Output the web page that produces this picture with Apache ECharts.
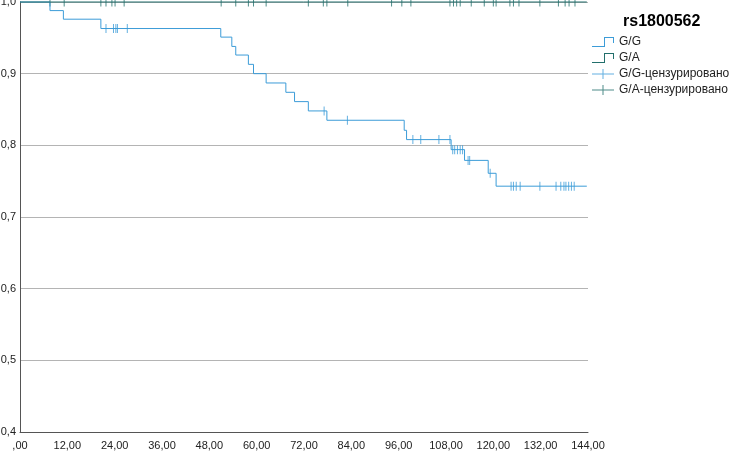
<!DOCTYPE html>
<html>
<head>
<meta charset="utf-8">
<script src="https://cdn.jsdelivr.net/npm/echarts@6/dist/echarts.min.js"></script>
<style>
  html, body { margin: 0; padding: 0; background: #fff; }
  #chart { width: 735px; height: 451px; }
</style>
</head>
<body>
<div id="chart"></div>
<script>
// G/G: время события и доля выживших после него
var ggTimes = [0, 7.6, 11.0, 20.5, 50.9, 53.7, 54.7, 57.9, 59.2, 62.4, 67.4, 69.6, 73.1, 77.8, 97.4, 98.0, 109.3, 112.7, 118.7, 120.7, 143.7];
var ggSurv  = [1.0, 0.988, 0.976, 0.963, 0.951, 0.938, 0.926, 0.913, 0.900, 0.887, 0.874, 0.861, 0.848, 0.835, 0.821, 0.808, 0.794, 0.779, 0.761, 0.743, 0.743];

// G/G цензурированные наблюдения
var ggCensTimes = [21.8, 23.7, 24.3, 24.7, 27.2, 77.1, 83.0, 99.6, 101.6, 106.2, 109.0, 109.7, 110.2, 110.9, 111.6, 112.2, 113.6, 114.0, 119.2,
                   124.5, 125.1, 125.8, 126.8, 131.8, 135.9, 137.1, 137.9, 138.4, 139.1, 139.8, 140.5];
var ggCensSurv  = [0.963, 0.963, 0.963, 0.963, 0.963, 0.848, 0.835, 0.808, 0.808, 0.808, 0.808, 0.794, 0.794, 0.794, 0.794, 0.794, 0.779, 0.779, 0.761,
                   0.743, 0.743, 0.743, 0.743, 0.743, 0.743, 0.743, 0.743, 0.743, 0.743, 0.743, 0.743];

// G/A: событий нет, только цензурирование
var gaTimes = [0, 143.7];
var gaSurv  = [1.0, 1.0];
var gaCensTimes = [7.6, 11.2, 20.5, 21.8, 23.3, 24.1, 26.4, 51.0, 54.7, 57.9, 59.2, 62.4, 73.1, 76.9, 77.8, 83.1, 94.2, 96.8, 99.1,
                   109.0, 109.9, 110.7, 111.6, 114.4, 117.7, 120.0, 120.7, 124.2, 125.1, 126.5, 131.8, 136.5, 138.2, 139.2, 140.7];

var C_GG = '#3c9cd8';
var C_GA = '#226f6c';

function pairs(xs, ys) {
    return xs.map(function (x, i) { return [x, ys[i]]; });
}

var tickPath = 'path://M0,0 H1 V10 H0 Z';
var stepIcon = 'path://M0,9 H12 V0 H22 V6 H21 V1 H13 V10 H0 Z';
var crossIcon = 'path://M0,4.5 H22 V5.5 H0 Z M10.5,0 H11.5 V10 H10.5 Z';

var chart = echarts.init(document.getElementById('chart'));
var option = {
    animation: false,
    textStyle: { fontFamily: 'Liberation Sans, Arial, sans-serif' },
    title: {
        text: 'rs1800562',
        left: 618,
        top: 9,
        textStyle: { fontSize: 16, fontWeight: 'bold', color: '#000', fontFamily: 'Liberation Sans, Arial, sans-serif' }
    },
    legend: {
        orient: 'vertical',
        left: 592,
        top: 36,
        padding: 0,
        itemWidth: 22,
        itemHeight: 10,
        itemGap: 4,
        textStyle: { fontSize: 12, color: '#222' },
        data: [
            { name: 'G/G', icon: stepIcon },
            { name: 'G/A', icon: stepIcon },
            { name: 'G/G-цензурировано', icon: crossIcon },
            { name: 'G/A-цензурировано', icon: crossIcon }
        ]
    },
    grid: { left: 20, top: 2, right: 147, bottom: 19, outerBoundsMode: 'none', containLabel: false },
    xAxis: {
        type: 'value',
        min: 0,
        max: 144,
        interval: 12,
        axisLine: { show: true, lineStyle: { color: '#555' } },
        axisTick: { show: false },
        splitLine: { show: false },
        axisLabel: {
            fontSize: 11,
            color: '#222',
            margin: 8,
            formatter: function (v) { return v === 0 ? ',00' : v.toFixed(2).replace('.', ','); }
        }
    },
    yAxis: {
        type: 'value',
        min: 0.4,
        max: 1.0,
        interval: 0.1,
        axisLine: { show: true, lineStyle: { color: '#555' } },
        axisTick: { show: false },
        splitLine: { show: true, lineStyle: { color: '#b4b4b4', width: 1 } },
        axisLabel: {
            fontSize: 11,
            color: '#222',
            margin: 4,
            formatter: function (v) { return v.toFixed(1).replace('.', ','); }
        }
    },
    series: [
        {
            name: 'G/G',
            type: 'line',
            step: 'end',
            data: pairs(ggTimes, ggSurv),
            symbol: 'none',
            clip: false,
            color: C_GG,
            lineStyle: { color: C_GG, width: 1 }
        },
        {
            name: 'G/A',
            type: 'line',
            step: 'end',
            data: pairs(gaTimes, gaSurv),
            symbol: 'none',
            clip: false,
            color: C_GA,
            lineStyle: { color: C_GA, width: 1 }
        },
        {
            name: 'G/G-цензурировано',
            type: 'scatter',
            data: pairs(ggCensTimes, ggCensSurv),
            symbol: tickPath,
            symbolSize: [1, 9],
            clip: false,
            color: C_GG,
            itemStyle: { color: C_GG }
        },
        {
            name: 'G/A-цензурировано',
            type: 'scatter',
            data: gaCensTimes.map(function (t) { return [t, 1.0]; }),
            symbol: tickPath,
            symbolSize: [1, 9],
            clip: false,
            color: C_GA,
            itemStyle: { color: C_GA }
        }
    ]
};
chart.setOption(option);
</script>
</body>
</html>
